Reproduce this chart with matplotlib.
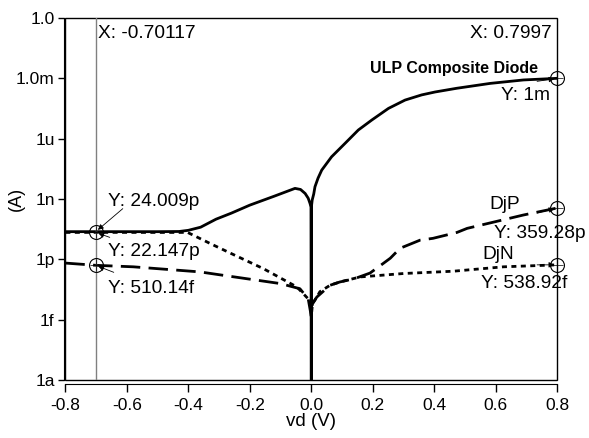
import numpy as np
import matplotlib.pyplot as plt
from matplotlib.patches import Rectangle

plt.rcParams['font.family'] = ['Liberation Sans', 'DejaVu Sans']

# ULP composite diode current (solid)
comp_x = [-0.8, -0.7, -0.6, -0.5, -0.43, -0.40, -0.36, -0.31, -0.26, -0.20, -0.12,
          -0.053, -0.035, -0.020, -0.010, -0.004, -0.001, 0.0, 0.001, 0.003, 0.008,
          0.012, 0.022, 0.034, 0.066, 0.110, 0.153, 0.197, 0.251, 0.305, 0.359,
          0.403, 0.473, 0.582, 0.69, 0.7997]
comp_y = [2.4e-11, 2.4009e-11, 2.4e-11, 2.4e-11, 2.45e-11, 2.8e-11, 4.0e-11, 1.0e-10,
          2.0e-10, 5.0e-10, 1.4e-9, 3.4e-9, 3.0e-9, 1.9e-9, 1.1e-9, 6.0e-10, 4e-10,
          1e-20, 5e-10, 9e-10, 1.8e-9, 4.1e-9, 1.1e-8, 2.75e-8, 1.26e-7, 5.9e-7,
          2.7e-6, 8.5e-6, 3.2e-5, 8.3e-5, 1.5e-4, 2.1e-4, 3.2e-4, 5.6e-4, 8.3e-4, 1e-3]

# DjN (dotted)
djn_x = [-0.8, -0.7, -0.5, -0.42, -0.405, -0.33, -0.26, -0.156, -0.047, -0.01, -0.002,
         0.0, 0.004, 0.018, 0.028, 0.061, 0.093, 0.159, 0.30, 0.462, 0.625, 0.7997]
djn_y = [2.2e-11, 2.2147e-11, 2.2e-11, 2.2e-11, 2.3e-11, 6.3e-12, 1.95e-12, 3.5e-13,
         4.3e-14, 1.1e-14, 6.3e-15, 1.5e-15, 6.3e-15, 1.35e-14, 2.5e-14, 5.2e-14,
         7.6e-14, 1.35e-13, 2.0e-13, 2.6e-13, 4.3e-13, 5.3892e-13]

# DjP (dashed)
djp_x = [-0.8, -0.7, -0.579, -0.362, -0.264, -0.1, -0.037, -0.01, 0.0, 0.004, 0.018,
         0.061, 0.093, 0.14, 0.191, 0.225, 0.257, 0.289, 0.354, 0.396, 0.474, 0.507,
         0.592, 0.689, 0.7997]
djp_y = [6.6e-13, 5.1014e-13, 4.3e-13, 2.4e-13, 1.45e-13, 6.3e-14, 3.5e-14, 1.1e-14,
         1.5e-15, 6.3e-15, 1.35e-14, 5.2e-14, 7.6e-14, 1.1e-13, 2.1e-13, 5.0e-13,
         1.15e-12, 3.6e-12, 9.1e-12, 1.12e-11, 2.2e-11, 3.5e-11, 7.1e-11, 1.6e-10,
         3.5928e-10]

y_ticks = [1e-18, 1e-15, 1e-12, 1e-9, 1e-6, 1e-3, 1.0]
y_labels = ['1a', '1f', '1p', '1n', '1u', '1.0m', '1.0']
x_ticks = [-0.8, -0.6, -0.4, -0.2, 0.0, 0.2, 0.4, 0.6, 0.8]

cursor_a = -0.70117
cursor_b = 0.7997

fig = plt.figure(figsize=(5.89, 4.38), dpi=100)
ax = fig.add_axes([0.111, 0.132, 0.835, 0.827])

ax.plot(comp_x, comp_y, color='black', lw=2.0, solid_joinstyle='round')
ax.plot(djn_x, djn_y, color='black', lw=2.0, dashes=(1.8, 1.6))
ax.plot(djp_x, djp_y, color='black', lw=2.0, dashes=(7, 3))

ax.axvline(cursor_a, color='#808080', lw=1.0)

ax.set_yscale('log')
ax.set_xlim(-0.8, 0.8)
ax.set_ylim(1e-18, 1.0)
ax.set_yticks(y_ticks)
ax.set_yticklabels(y_labels)
ax.minorticks_off()
ax.set_xticks(x_ticks)
ax.set_xticklabels(['%.1f' % v for v in x_ticks])
ax.tick_params(axis='x', length=6, width=1, pad=4, labelsize=12.5)
ax.tick_params(axis='y', length=4.5, width=1, pad=2, labelsize=12.5)

for s in ['top', 'right']:
    ax.spines[s].set_visible(False)
ax.spines['left'].set_position(('outward', 1.2))
ax.spines['bottom'].set_position(('outward', 3))
ax.add_patch(Rectangle((0, 0), 1, 1, transform=ax.transAxes, fill=False,
                       lw=1.0, edgecolor='black', clip_on=False))

ax.set_xlabel('vd (V)', fontsize=13.5, labelpad=0)
ax.set_ylabel('(A)', fontsize=13, va='center')
ax.yaxis.set_label_coords(-0.099, 0.5)

# cursor markers
mk_x = [cursor_a, cursor_a, cursor_b, cursor_b, cursor_b]
mk_y = [2.4009e-11, 5.1014e-13, 1e-3, 3.5928e-10, 5.3892e-13]
ax.plot(mk_x, mk_y, 'o', ms=10, mfc='none', mec='black', mew=0.8, clip_on=False)
ax.plot(mk_x, mk_y, '+', ms=9, color='black', mew=0.5, clip_on=False)

fs = 13.8
ax.annotate('X: -0.70117', xy=(cursor_a, 1), xycoords=('data', 'axes fraction'),
            xytext=(2, -20), textcoords='offset pixels', ha='left', va='baseline', fontsize=fs)
ax.annotate('X: 0.7997', xy=(cursor_b, 1), xycoords=('data', 'axes fraction'),
            xytext=(-5, -20), textcoords='offset pixels', ha='right', va='baseline', fontsize=fs)

arrow = dict(arrowstyle='-|>', color='black', lw=0.6, mutation_scale=8, shrinkA=0, shrinkB=2)

ax.annotate('Y: 24.009p', xy=(cursor_a, 2.4009e-11), xytext=(12, 26),
            textcoords='offset pixels', ha='left', va='baseline', fontsize=fs)
ax.annotate('', xy=(cursor_a, 2.4009e-11), xytext=(27, 23), textcoords='offset pixels',
            arrowprops=arrow)
ax.annotate('Y: 22.147p', xy=(cursor_a, 2.2147e-11), xytext=(12, -24),
            textcoords='offset pixels', ha='left', va='baseline', fontsize=fs)
ax.annotate('', xy=(cursor_a, 2.2147e-11), xytext=(14, -5), textcoords='offset pixels',
            arrowprops=arrow)
ax.annotate('Y: 510.14f', xy=(cursor_a, 5.1014e-13), xytext=(12, -28),
            textcoords='offset pixels', ha='left', va='baseline', fontsize=fs)
ax.annotate('', xy=(cursor_a, 5.1014e-13), xytext=(18, -7), textcoords='offset pixels',
            arrowprops=arrow)

ax.annotate('ULP Composite Diode', xy=(cursor_b, 1e-3), xytext=(-19, 5),
            textcoords='offset pixels', ha='right', va='baseline', fontsize=11.5,
            fontweight='bold')
ax.annotate('Y: 1m', xy=(cursor_b, 1e-3), xytext=(-7, -22),
            textcoords='offset pixels', ha='right', va='baseline', fontsize=fs)
ax.annotate('', xy=(cursor_b, 1e-3), xytext=(-20, -3), textcoords='offset pixels',
            arrowprops=arrow)
ax.annotate('DjP', xy=(cursor_b, 3.5928e-10), xytext=(-37, -1),
            textcoords='offset pixels', ha='right', va='baseline', fontsize=fs)
ax.annotate('Y: 359.28p', xy=(cursor_b, 3.5928e-10), xytext=(-63, -30),
            textcoords='offset pixels', ha='left', va='baseline', fontsize=fs)
ax.annotate('', xy=(cursor_b, 3.5928e-10), xytext=(-20, -5), textcoords='offset pixels',
            arrowprops=arrow)
ax.annotate('DjN', xy=(cursor_b, 5.3892e-13), xytext=(-43, 6),
            textcoords='offset pixels', ha='right', va='baseline', fontsize=fs)
ax.annotate('Y: 538.92f', xy=(cursor_b, 5.3892e-13), xytext=(10, -23),
            textcoords='offset pixels', ha='right', va='baseline', fontsize=fs)
ax.annotate('', xy=(cursor_b, 5.3892e-13), xytext=(-20, 0), textcoords='offset pixels',
            arrowprops=arrow)

fig.savefig('out.png', dpi=100)
